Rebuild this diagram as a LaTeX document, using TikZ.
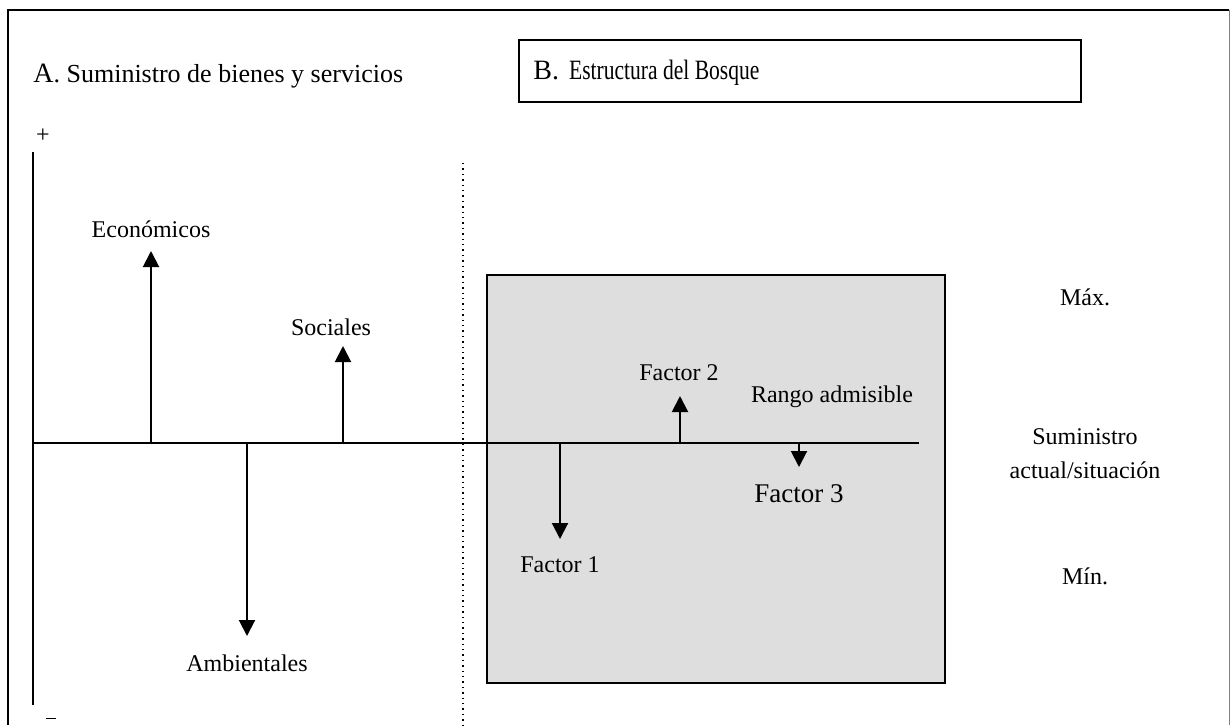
\documentclass[tikz,border=0pt]{standalone}
\usepackage{fontspec}
\setmainfont{Liberation Serif}
\usetikzlibrary{arrows.meta}
\definecolor{shade}{RGB}{222,222,222}
\tikzset{
  lbl/.style={font=\fontsize{12}{14}\selectfont, inner sep=0pt},
  arr/.style={line width=1pt, -{Triangle[width=8pt,length=8pt]}},
  axis/.style={line width=1pt},
  frame/.style={line width=1.2pt}
}
\begin{document}
\begin{tikzpicture}[x=0.5pt,y=-0.5pt]
\useasboundingbox (0,0) rectangle (1231,725);
% outer frame
\draw[frame] (8,725) -- (8,10) -- (1229,10);
\draw[gray,line width=0.8pt] (1229.5,10) -- (1229.5,725);
% section separator
\draw[dotted,line width=0.7pt] (463,163) -- (463,725);
% shaded range box
\node[draw,line width=0.8pt,fill=shade,minimum width=229pt,minimum height=204pt,inner sep=0pt] (range) at (716,479) {};
% B box
\node[draw,line width=1pt,minimum width=281pt,minimum height=31pt,inner sep=0pt] (bbox) at (800,71) {};
\node[lbl,anchor=west] (btext) at (533,73) {\fontsize{14}{15}\selectfont B.\hspace{5pt}\scalebox{0.77}[1]{Estructura del Bosque}};
% A title
\node[lbl,anchor=west] (atext) at (33,76) {\fontsize{14}{15}\selectfont A\fontsize{13}{14}\selectfont . Suministro de bienes y servicios};
% axes
\coordinate (vtop) at (33,152);
\coordinate (vbot) at (33,705);
\coordinate (hl) at (33,443);
\coordinate (hr) at (919,443);
\draw[axis] (vtop) -- (vbot);
\draw[axis] (hl) -- (hr);
\node[lbl] (plus) at (43,136) {+};
\node[lbl] (minus) at (51,719) {\rule[0.5pt]{5pt}{0.6pt}};
% arrows on left
\coordinate (eb) at (151,443); \coordinate (et) at (151,251);
\coordinate (sb) at (343,443); \coordinate (st) at (343,346);
\coordinate (ab) at (247,443); \coordinate (at) at (247,636);
\draw[arr] (eb) -- (et);
\draw[arr] (sb) -- (st);
\draw[arr] (ab) -- (at);
\node[lbl] (econ) at (151,229) {Económicos};
\node[lbl] (soc) at (331,327) {Sociales};
\node[lbl] (amb) at (247,663) {Ambientales};
% arrows on right
\coordinate (f1b) at (560,443); \coordinate (f1t) at (560,539);
\coordinate (f2b) at (680,443); \coordinate (f2t) at (680,396);
\coordinate (f3b) at (799,443); \coordinate (f3t) at (799,467);
\draw[arr] (f1b) -- (f1t);
\draw[arr] (f2b) -- (f2t);
\draw[arr] (f3b) -- (f3t);
\node[lbl] (f1) at (560,565) {Factor 1};
\node[lbl] (f2) at (679,373) {Factor 2};
\node[lbl,font=\fontsize{13.5}{15}\selectfont] (f3) at (799,494) {Factor 3};
\node[lbl] (rango) at (832,397) {Rango admisible};
% right labels
\node[lbl] (max) at (1085,297) {Máx.};
\node[lbl,align=center,font=\fontsize{12}{17}\selectfont] (sum) at (1085,454) {Suministro\\actual/situación};
\node[lbl] (min) at (1085,576) {Mín.};
\end{tikzpicture}
\end{document}
